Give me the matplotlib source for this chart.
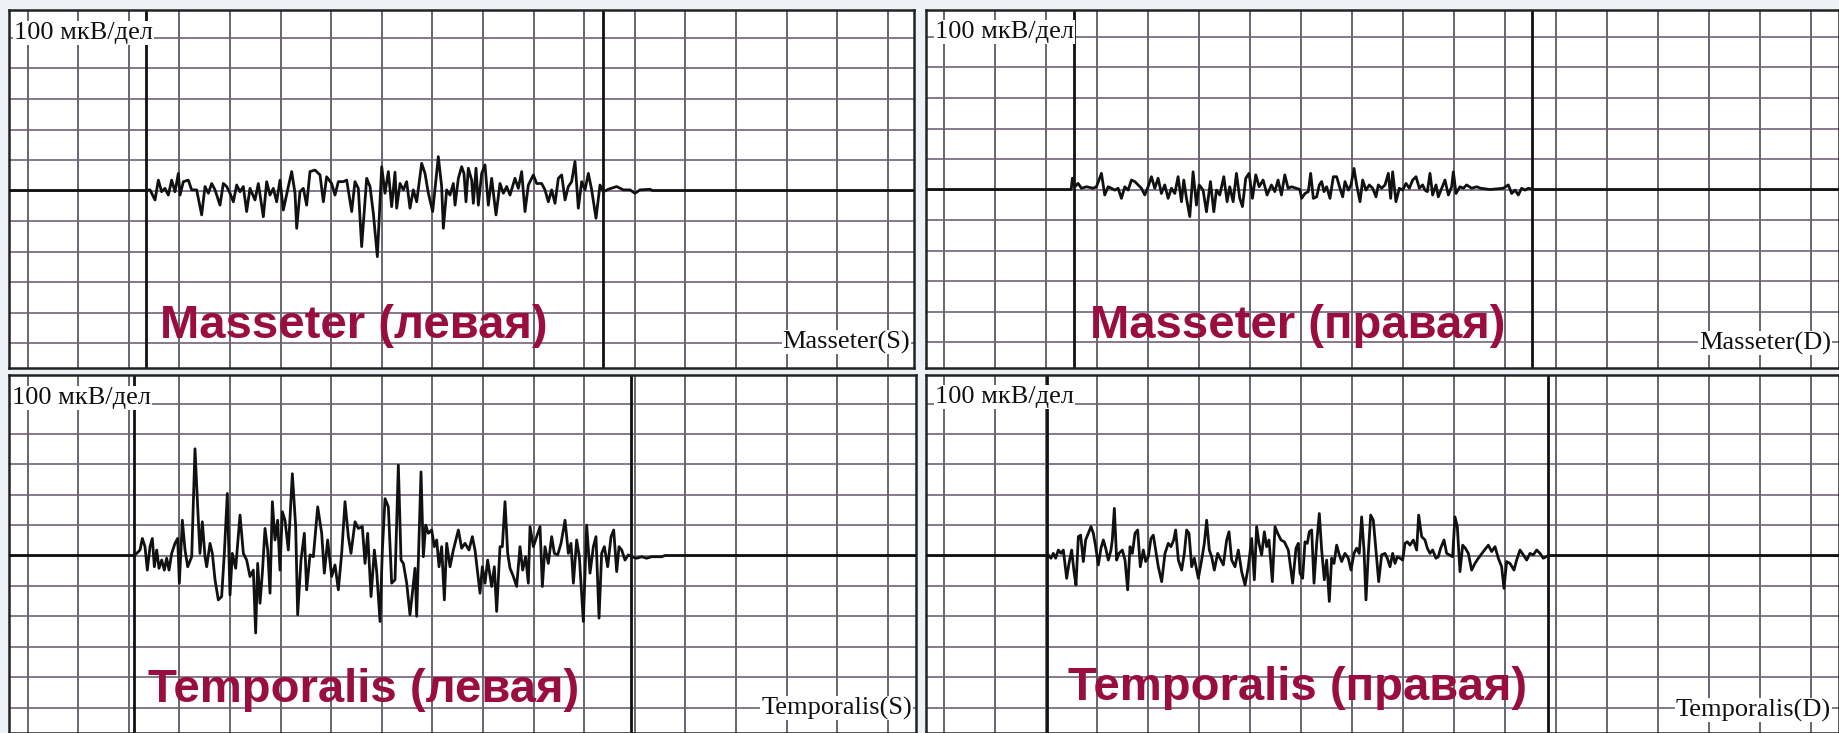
import matplotlib
matplotlib.use("Agg")
import matplotlib.pyplot as plt

# ---------------- data (x in grid divisions, y in µV; 100 µV per division) ----------------
tl_x = [2.34, 2.421, 2.520, 2.586, 2.651, 2.717, 2.783, 2.849, 2.915, 2.981, 3.014, 3.080, 3.178, 3.244,
        3.343, 3.442, 3.508, 3.574, 3.640, 3.706, 3.804, 3.870, 3.936, 4.002, 4.068, 4.134, 4.200, 4.265,
        4.331, 4.397, 4.496, 4.562, 4.661, 4.727, 4.792, 4.858, 4.924, 4.990, 5.056, 5.155, 5.221, 5.287,
        5.320, 5.385, 5.451, 5.517, 5.583, 5.682, 5.781, 5.847, 5.912, 6.011, 6.077, 6.143, 6.242, 6.308,
        6.407, 6.472, 6.538, 6.604, 6.703, 6.769, 6.835, 6.914, 7.000, 7.065, 7.131, 7.197, 7.263, 7.296,
        7.362, 7.428, 7.493, 7.559, 7.625, 7.691, 7.790, 7.856, 7.922, 8.007, 8.119, 8.185, 8.218, 8.284,
        8.350, 8.416, 8.449, 8.515, 8.580, 8.626, 8.666, 8.712, 8.778, 8.811, 8.864, 8.910, 8.976, 9.041,
        9.107, 9.173, 9.259, 9.338, 9.404, 9.470, 9.536, 9.634, 9.700, 9.766, 9.832, 9.898, 9.997, 10.063,
        10.161, 10.227, 10.293, 10.359, 10.425, 10.491, 10.557, 10.623, 10.688, 10.754, 10.820, 10.886,
        10.952, 11.018, 11.084, 11.150, 11.235, 11.314, 11.380, 11.479, 11.643, 11.775, 11.907, 12.006,
        12.105, 12.302, 12.35]
tl_y = [0, 2, -31, 34, -4, 7, -15, 34, -4, 56, -15, 29, 34, 2,
        2, -80, 13, -9, 23, 2, -48, 23, 13, -9, -37, 18, -4, 13,
        -69, 7, -31, 23, -86, 29, -15, 7, -37, 34, -64, 13, 62, -9,
        -124, -4, 7, -48, 62, 67, 51, -37, 45, 23, -15, 29, 29, 34,
        -69, 29, 7, -184, 40, 13, -75, -217, 78, -9, 62, -53, 60, -58,
        23, 2, 29, -58, 2, -37, 89, 56, -9, -69, 111, 13, -124, 2,
        -15, 23, -48, 40, 78, 56, -37, 73, 34, -42, 73, -48, 56, 84,
        -48, 40, -80, 23, -9, 13, -15, 40, 7, 62, -69, 18, 51, 23,
        23, 2, -37, 2, -42, 40, 51, -31, 13, 29, 95, -58,
        29, 2, 56, 2, -91, 18, -4, 4, 13, 2, 2, -9,
        2, 4, 0]

tr_x = [2.50, 2.524, 2.570, 2.635, 2.701, 2.799, 2.930, 2.995, 3.093, 3.158, 3.224, 3.289, 3.354, 3.420,
        3.485, 3.551, 3.616, 3.681, 3.747, 3.812, 3.877, 3.943, 4.008, 4.073, 4.139, 4.204, 4.269, 4.335,
        4.400, 4.466, 4.531, 4.596, 4.662, 4.707, 4.760, 4.825, 4.890, 4.956, 5.008, 5.086, 5.152, 5.230,
        5.296, 5.348, 5.413, 5.492, 5.557, 5.609, 5.675, 5.740, 5.805, 5.858, 5.923, 5.988, 6.054, 6.119,
        6.185, 6.263, 6.341, 6.426, 6.492, 6.557, 6.622, 6.688, 6.753, 6.818, 6.916, 6.982, 7.019, 7.084,
        7.149, 7.195, 7.248, 7.313, 7.365, 7.411, 7.457, 7.509, 7.574, 7.640, 7.705, 7.770, 7.823, 7.868,
        7.934, 7.986, 8.045, 8.097, 8.163, 8.215, 8.280, 8.346, 8.411, 8.476, 8.522, 8.587, 8.653, 8.718,
        8.764, 8.803, 8.868, 8.934, 8.999, 9.065, 9.130, 9.195, 9.261, 9.326, 9.391, 9.437, 9.483, 9.535,
        9.587, 9.653, 9.698, 9.764, 9.829, 9.895, 9.960, 9.993, 10.045, 10.123, 10.189, 10.254, 10.352,
        10.450, 10.529, 10.712, 10.973, 11.071, 11.137, 11.202, 11.267, 11.332, 11.398, 11.463, 11.561]
tr_y = [0, 37, 9, 20, 4, 9, 4, 9, 53, -18, 9, 4, -2, 4,
        -29, 9, -2, 31, 26, 15, 4, -18, 9, 42, 4, 37, -13, 15,
        -29, 4, -13, 42, -40, 31, -29, -89, 58, -51, 15, -2, -73, 26,
        -73, -2, -18, 42, -40, 9, -40, 53, -29, -56, 37, 53, -29, 48,
        9, 31, -18, 15, -7, 31, -18, 48, 4, 9, 4, 0, -29, -13,
        -7, 53, -29, -24, 15, 26, -7, 9, -29, 42, 42, 4, -24, 26,
        -2, 15, 69, 15, -40, 31, -2, 15, 4, -24, 15, 4, 15, 53,
        -29, 58, -40, 4, -2, 20, 4, 31, 42, 4, 15, -2, -7, 53,
        -18, 15, -24, 4, 31, -18, 9, 58, -13, 9, 4, 15, 4,
        9, 4, 0, 4, 15, -13, -2, -18, 4, -2, 4, 0]

bl_x = [2.111, 2.158, 2.223, 2.270, 2.322, 2.368, 2.421, 2.467, 2.507, 2.553, 2.599, 2.652, 2.704, 2.750,
        2.797, 2.849, 2.915, 2.968, 3.001, 3.060, 3.113, 3.166, 3.245, 3.310, 3.363, 3.409, 3.455, 3.508,
        3.541, 3.607, 3.653, 3.706, 3.771, 3.837, 3.890, 3.949, 4.002, 4.048, 4.114, 4.200, 4.266, 4.331,
        4.397, 4.463, 4.509, 4.549, 4.595, 4.641, 4.694, 4.747, 4.793, 4.839, 4.891, 4.944, 4.990, 5.036,
        5.089, 5.155, 5.234, 5.300, 5.339, 5.405, 5.471, 5.517, 5.583, 5.649, 5.735, 5.814, 5.866, 5.932,
        6.011, 6.077, 6.143, 6.209, 6.275, 6.341, 6.393, 6.473, 6.538, 6.617, 6.670, 6.723, 6.789, 6.855,
        6.901, 6.967, 7.013, 7.066, 7.131, 7.197, 7.263, 7.329, 7.382, 7.428, 7.494, 7.559, 7.606, 7.658,
        7.691, 7.737, 7.777, 7.823, 7.869, 7.922, 7.988, 8.040, 8.087, 8.133, 8.185, 8.238, 8.284, 8.350,
        8.416, 8.515, 8.580, 8.646, 8.725, 8.791, 8.844, 8.897, 8.943, 8.989, 9.042, 9.094, 9.173, 9.226,
        9.272, 9.338, 9.384, 9.437, 9.490, 9.536, 9.602, 9.667, 9.733, 9.786, 9.845, 9.898, 9.931, 9.997,
        10.063, 10.129, 10.175, 10.227, 10.293, 10.359, 10.412, 10.478, 10.544, 10.623, 10.689, 10.741,
        10.788, 10.853, 10.906, 10.985, 11.051, 11.117, 11.183, 11.235, 11.295, 11.347, 11.400, 11.466,
        11.532, 11.585, 11.644, 11.690, 11.743, 11.808, 11.874, 11.940, 12.039, 12.138, 12.237, 12.336,
        12.533, 12.60]
bl_y = [0, 7, 18, 56, 29, -48, 29, 56, -37, 18, -42, -15, -48, -9,
        -48, 7, 40, 56, -91, 116, 18, -37, -4, 351, 160, 7, 111, -4,
        -37, 40, 7, -80, -146, -135, 7, 204, -130, 7, -42, 133, 7, -15,
        -69, -48, -255, -26, -157, -58, 89, 18, -124, 177, 51, 116, -48, 144,
        116, 18, 269, 95, -195, -15, 73, -113, 2, -4, 160, 73, -58, 51,
        -69, -31, -113, 7, 177, 62, 7, 111, 89, 95, -26, 73, -135, 18,
        -53, -217, 18, 187, 160, -91, -80, 297, -15, -26, -91, -195, -124, -42,
        -200, 51, 275, -4, 100, 73, 84, 29, 51, -37, 29, -146, 40, -37,
        18, 84, 24, 40, 18, 62, 18, -58, -124, -37, -91, -15, -102, -37,
        -184, 29, 29, 177, 7, -42, -69, -102, 29, -48, -4, -91, 95, 29,
        62, 95, -102, 29, -26, 62, 7, 2, 40, 116, 7, 40,
        -91, 51, -4, -217, 100, -58, 29, 62, -206, 7, 29, -37,
        62, 84, -53, 29, 18, -15, 2, -4, -9, -4, -9, -4,
        -4, 0]

br_x = [2.03, 2.051, 2.104, 2.149, 2.195, 2.248, 2.300, 2.346, 2.411, 2.457, 2.509, 2.555, 2.594, 2.640,
        2.685, 2.738, 2.783, 2.836, 2.888, 2.934, 2.980, 3.032, 3.084, 3.130, 3.176, 3.228, 3.280, 3.306,
        3.346, 3.391, 3.437, 3.502, 3.555, 3.607, 3.653, 3.699, 3.751, 3.803, 3.855, 3.914, 3.960, 4.012,
        4.064, 4.110, 4.156, 4.208, 4.274, 4.339, 4.404, 4.457, 4.509, 4.548, 4.601, 4.666, 4.718, 4.764,
        4.810, 4.862, 4.914, 4.993, 5.058, 5.110, 5.156, 5.208, 5.254, 5.306, 5.372, 5.417, 5.483, 5.548,
        5.594, 5.646, 5.712, 5.777, 5.842, 5.908, 5.973, 6.038, 6.091, 6.136, 6.182, 6.234, 6.287, 6.332,
        6.378, 6.444, 6.496, 6.548, 6.614, 6.679, 6.757, 6.842, 6.908, 6.953, 6.986, 7.038, 7.084, 7.130,
        7.169, 7.215, 7.261, 7.313, 7.365, 7.411, 7.463, 7.509, 7.561, 7.607, 7.653, 7.705, 7.757, 7.803,
        7.868, 7.934, 7.986, 8.045, 8.097, 8.149, 8.195, 8.241, 8.280, 8.326, 8.372, 8.424, 8.476, 8.529,
        8.587, 8.653, 8.698, 8.751, 8.803, 8.849, 8.895, 8.947, 8.999, 9.045, 9.091, 9.143, 9.208, 9.274,
        9.313, 9.372, 9.437, 9.483, 9.535, 9.587, 9.653, 9.698, 9.744, 9.810, 9.862, 9.914, 9.979, 10.025,
        10.071, 10.123, 10.176, 10.228, 10.287, 10.352, 10.417, 10.483, 10.581, 10.679, 10.744, 10.810,
        10.875, 10.940, 10.986, 11.038, 11.104, 11.182, 11.234, 11.300, 11.365, 11.431, 11.496, 11.561,
        11.627, 11.692, 11.757, 11.855]
br_y = [0, 2, -9, 7, -9, 18, 7, 18, -75, -26, 18, -53, -97, 62,
        67, -20, 51, 73, 95, 73, 29, -31, 24, 51, 24, -15, 18, 51,
        155, -15, 7, 18, -15, -113, 29, 7, 73, 84, -37, 18, -20, -4,
        56, 67, 18, -37, -86, 7, 40, 29, 51, 84, -15, -48, 7, 84,
        73, -37, -9, -75, -15, 40, 116, 18, -4, -48, 7, -9, -31, 51,
        78, -15, -37, 18, -53, -97, -37, 56, -80, 95, 40, 2, 78, 29,
        51, -86, 95, 73, 51, 45, 18, -91, 24, 40, -58, -75, 45, 40,
        78, 84, -91, 40, 138, 18, -80, -15, -151, -9, -26, 34, 2, -20,
        7, -9, -48, 7, 24, 7, 127, 18, -146, 7, 133, 116, 18, -86,
        2, 7, -9, -37, 7, -26, -4, -9, -15, 40, 45, 34, 51, 18,
        133, 62, 51, 24, 7, 18, -9, -4, 24, 51, 7, 2, -4, 127,
        95, -53, 34, 24, 7, -48, -26, -9, 13, 34, 13, 29,
        -9, -37, -108, -20, -26, -48, -15, 18, 2, -15, 7, 2,
        18, 7, -9, 0]

scale_labels = ["100 мкВ/дел"] * 4
titles = ["Masseter (левая)", "Masseter (правая)", "Temporalis (левая)", "Temporalis (правая)"]
channel_labels = ["Masseter(S)", "Masseter(D)", "Temporalis(S)", "Temporalis(D)"]
marker_lines = [(2.34, 11.38), (2.547, 11.545), (2.111, 11.93), (2.03, 11.857)]

# ---------------- layout (pixel geometry of the scanned recording) ----------------
W, H = 1839, 733
fig = plt.figure(figsize=(W / 100, H / 100), dpi=100, facecolor="#eef2f7")

panels = [
    dict(l=9, t=10, r=914, b=368, g0=27.5, dx=50.6, base=190.5, dy=30.5,
         data=(tl_x, tl_y), title_xy=(160, 338), scale_xy=(14, 33), chan_xy=(910, 342)),
    dict(l=926, t=10, r=1839, b=368, g0=943.7, dx=51.0, base=189.5, dy=30.5,
         data=(tr_x, tr_y), title_xy=(1090, 338), scale_xy=(935, 32), chan_xy=(1831, 343)),
    dict(l=9, t=375, r=916, b=733, g0=27.5, dx=50.6, base=555.5, dy=30.4,
         data=(bl_x, bl_y), title_xy=(148, 702), scale_xy=(12, 398), chan_xy=(912, 708)),
    dict(l=926, t=375, r=1839, b=733, g0=943.7, dx=51.0, base=555.5, dy=30.4,
         data=(br_x, br_y), title_xy=(1068, 700), scale_xy=(935, 397), chan_xy=(1831, 710)),
]

grid_v = "#4e4b5a"
grid_h = "#6f6478"
red = "#9a0e3f"

for i, p in enumerate(panels):
    ax = fig.add_axes([p["l"] / W, 1 - p["b"] / H, (p["r"] - p["l"]) / W, (p["b"] - p["t"]) / H])
    ax.set_facecolor("white")
    x0 = (p["l"] - p["g0"]) / p["dx"]
    x1 = (p["r"] - p["g0"]) / p["dx"]
    y1 = (p["base"] - p["t"]) / p["dy"] * 100
    y0 = (p["base"] - p["b"]) / p["dy"] * 100
    ax.set_xlim(x0, x1)
    ax.set_ylim(y0, y1)
    # grid
    for k in range(0, int(x1) + 1):
        ax.axvline(k, color=grid_v, lw=1.2, zorder=1)
    for k in range(-6, 7):
        if y0 < k * 100 < y1:
            ax.axhline(k * 100, color=grid_h, lw=1.2, zorder=1)
    for xm in marker_lines[i]:
        ax.axvline(xm, color="#111111", lw=2.0, zorder=2)
    # signal with flat baseline before and after
    sx, sy = p["data"]
    ax.plot([x0] + list(sx) + [x1], [0] + list(sy) + [0], color="#111111", lw=2.0,
            solid_joinstyle="round", zorder=3)
    ax.set_xticks([])
    ax.set_yticks([])
    for s in ax.spines.values():
        s.set_color("#222222")
        s.set_linewidth(1.8)

    fig.text(p["scale_xy"][0] / W, 1 - p["scale_xy"][1] / H, scale_labels[i],
             family="Liberation Serif", fontsize=19, ha="left", va="center", color="#111111",
             bbox=dict(facecolor="white", edgecolor="none", pad=0.5), zorder=5)
    fig.text(p["chan_xy"][0] / W, 1 - p["chan_xy"][1] / H, channel_labels[i],
             family="Liberation Serif", fontsize=19, ha="right", va="center", color="#111111",
             bbox=dict(facecolor="white", edgecolor="none", pad=0.5), zorder=5)
    fig.text(p["title_xy"][0] / W, 1 - p["title_xy"][1] / H, titles[i],
             family="Liberation Sans", fontweight="bold", fontsize=34, ha="left",
             va="baseline", color=red, zorder=6)

fig.savefig("out.png", dpi=100, facecolor=fig.get_facecolor())
